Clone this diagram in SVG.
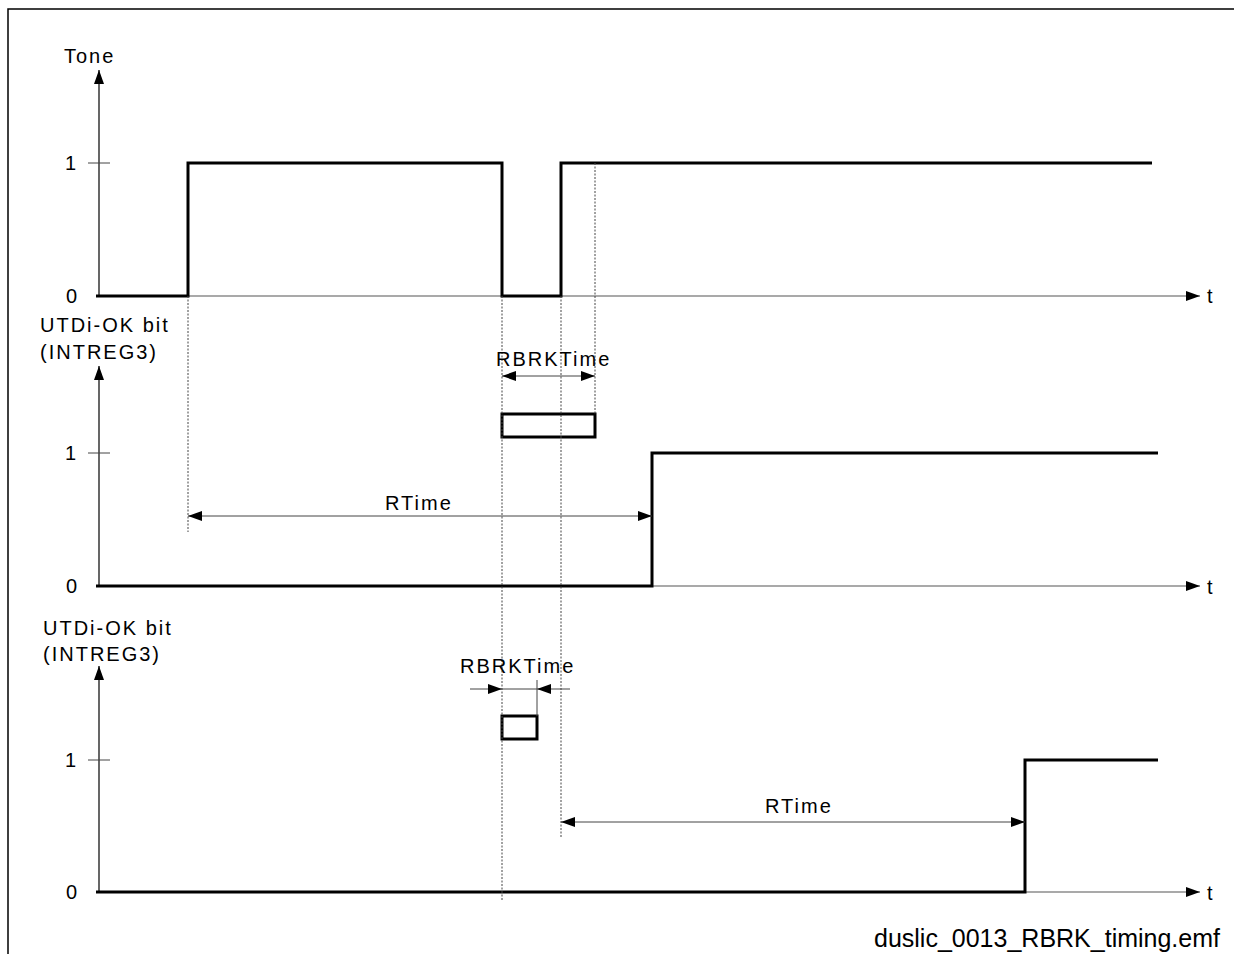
<svg xmlns="http://www.w3.org/2000/svg" width="1234" height="954" viewBox="0 0 1234 954">
<style>
.lbl{font-family:"Liberation Sans",Arial,sans-serif;font-size:20px;fill:#000;letter-spacing:2px}
.num{font-family:"Liberation Sans",Arial,sans-serif;font-size:20px;fill:#000}
.foot{font-family:"Liberation Sans",Arial,sans-serif;font-size:25px;fill:#000}
.ax{stroke:#000;stroke-width:1.2;fill:none}
.tax{stroke:#555;stroke-width:1.2;fill:none}
.tick{stroke:#444;stroke-width:1;fill:none}
.sig{stroke:#000;stroke-width:3;fill:none;stroke-linejoin:miter}
.dot{stroke:#444;stroke-width:1;stroke-dasharray:2,1.5;fill:none}
.dim{stroke:#444;stroke-width:1;fill:none}
</style>
<defs>
<marker id="ah" markerWidth="14" markerHeight="10" refX="14" refY="5" orient="auto" markerUnits="userSpaceOnUse">
<path d="M0,0 L14,5 L0,10 z" fill="#000"/>
</marker>
<marker id="ahs" markerWidth="14" markerHeight="10" refX="0" refY="5" orient="auto" markerUnits="userSpaceOnUse">
<path d="M14,0 L0,5 L14,10 z" fill="#000"/>
</marker>
</defs>
<rect width="1234" height="954" fill="#fff"/>
<path d="M8,954 V9 H1234" stroke="#000" stroke-width="1.5" fill="none"/>

<g id="axis-tone">
<line class="ax" x1="99" y1="296" x2="99" y2="70" marker-end="url(#ah)"/>
<line class="tax" x1="99" y1="296" x2="1200" y2="296" marker-end="url(#ah)"/>
<line class="tick" x1="88" y1="163" x2="110" y2="163"/>
<text class="lbl" x="64" y="63">Tone</text>
<text class="num" x="65" y="170">1</text>
<text class="num" x="66" y="303">0</text>
<text class="num" x="1207" y="303">t</text>
</g>

<g id="axis-utdi-1">
<line class="ax" x1="99" y1="586" x2="99" y2="366" marker-end="url(#ah)"/>
<line class="tax" x1="99" y1="586" x2="1200" y2="586" marker-end="url(#ah)"/>
<line class="tick" x1="88" y1="453" x2="110" y2="453"/>
<text class="lbl" x="40" y="332">UTDi-OK bit</text>
<text class="lbl" x="40" y="359">(INTREG3)</text>
<text class="num" x="65" y="460">1</text>
<text class="num" x="66" y="593">0</text>
<text class="num" x="1207" y="594">t</text>
</g>

<g id="axis-utdi-2">
<line class="ax" x1="99" y1="892" x2="99" y2="666" marker-end="url(#ah)"/>
<line class="tax" x1="99" y1="892" x2="1200" y2="892" marker-end="url(#ah)"/>
<line class="tick" x1="88" y1="760" x2="110" y2="760"/>
<text class="lbl" x="43" y="635">UTDi-OK bit</text>
<text class="lbl" x="43" y="661">(INTREG3)</text>
<text class="num" x="65" y="767">1</text>
<text class="num" x="66" y="899">0</text>
<text class="num" x="1207" y="900">t</text>
</g>

<g id="signals">
<polyline class="sig" points="96,296 188,296 188,163 502,163 502,296 561,296 561,163 1152,163"/>
<polyline class="sig" points="96,586 652,586 652,453 1158,453"/>
<polyline class="sig" points="96,892 1025,892 1025,760 1158,760"/>
<rect class="sig" x="502" y="414" width="93" height="23"/>
<rect class="sig" x="502" y="716" width="35" height="23"/>
</g>

<g id="connectors">
<line class="dot" x1="188" y1="296" x2="188" y2="532"/>
<line class="dot" x1="502" y1="296" x2="502" y2="900"/>
<line class="dot" x1="561" y1="296" x2="561" y2="838"/>
<line class="dot" x1="595" y1="163" x2="595" y2="414"/>
<line class="dim" x1="502" y1="376" x2="595" y2="376" marker-start="url(#ahs)" marker-end="url(#ah)"/>
<line class="dim" x1="188" y1="516" x2="652" y2="516" marker-start="url(#ahs)" marker-end="url(#ah)"/>
<line class="dim" x1="561" y1="822" x2="1025" y2="822" marker-start="url(#ahs)" marker-end="url(#ah)"/>
<line class="dim" x1="470" y1="689" x2="502" y2="689" marker-end="url(#ah)"/>
<line class="dim" x1="570" y1="689" x2="537" y2="689" marker-end="url(#ah)"/>
<line class="dim" x1="502" y1="689" x2="537" y2="689"/>
<line class="dim" x1="537" y1="680" x2="537" y2="716"/>
</g>

<g id="labels">
<text class="lbl" x="496" y="366">RBRKTime</text>
<text class="lbl" x="385" y="510">RTime</text>
<text class="lbl" x="460" y="673">RBRKTime</text>
<text class="lbl" x="765" y="813">RTime</text>
<text class="foot" x="1220" y="947" text-anchor="end">duslic_0013_RBRK_timing.emf</text>
</g>
</svg>
